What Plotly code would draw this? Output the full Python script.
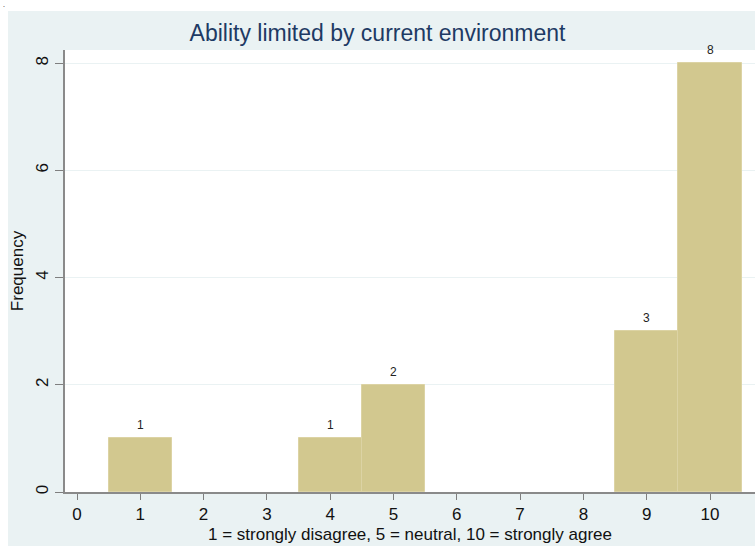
import plotly.graph_objects as go

categories = [1, 4, 5, 9, 10]
frequency = [1, 1, 2, 3, 8]
x_ticks = list(range(0, 11))
y_ticks = [0, 2, 4, 6, 8]

title_text = "Ability limited by current environment"
x_title = "1 = strongly disagree, 5 = neutral, 10 = strongly agree"
y_title = "Frequency"

W, H = 755, 546
L, R, T, B = 65, 0, 50, 54
pw, ph = W - L - R, H - T - B

def px_x(px):
    return (px - L) / pw

def px_y(py):
    return (H - B - py) / ph

bar_color = "#d2c88f"
font_family = "Liberation Sans, Arial, sans-serif"

fig = go.Figure()
fig.add_trace(go.Bar(
    x=categories, y=frequency, width=1.0,
    marker=dict(color=bar_color, line=dict(color="#dcd3a4", width=1)),
    hoverinfo="x+y",
))

for c, v in zip(categories, frequency):
    fig.add_annotation(x=c, y=v, text=str(v), showarrow=False, yshift=13,
                       font=dict(size=12, color="#222222", family=font_family))

# outer white strips (top and left) and stray dot
fig.add_shape(type="rect", xref="paper", yref="paper", x0=px_x(-5), x1=px_x(W + 5),
              y0=px_y(11), y1=px_y(-5), fillcolor="white", line=dict(width=0), layer="above")
fig.add_shape(type="rect", xref="paper", yref="paper", x0=px_x(-5), x1=px_x(8),
              y0=px_y(H + 5), y1=px_y(-5), fillcolor="white", line=dict(width=0), layer="above")
fig.add_annotation(xref="paper", yref="paper", x=px_x(4), y=px_y(9), text=".",
                   showarrow=False, font=dict(size=7, color="black", family=font_family),
                   xanchor="center", yanchor="bottom", borderpad=0)

fig.update_layout(
    width=W, height=H,
    margin=dict(l=L, r=R, t=T, b=B, pad=0),
    paper_bgcolor="#eaf2f3",
    plot_bgcolor="white",
    showlegend=False,
    bargap=0,
    font=dict(family=font_family, color="#111111"),
    title=dict(text=title_text, x=px_x(410), xanchor="center", y=1 - 33 / H, yanchor="middle",
               font=dict(size=23, color="#1e3a64", family=font_family)),
    xaxis=dict(
        range=[(L - 77) / 63.3, (W - 77) / 63.3],
        tickmode="array", tickvals=x_ticks, ticktext=[str(t) for t in x_ticks],
        ticks="outside", ticklen=6, tickcolor="#7f7f7f", tickwidth=1,
        showline=True, linecolor="#8a8a8a", linewidth=2,
        showgrid=False, zeroline=False,
        tickfont=dict(size=17, color="#111111"),
        title=dict(text=x_title, font=dict(size=17, color="#111111"), standoff=5),
    ),
    yaxis=dict(
        range=[0, (492 - 50) / 53.6],
        tickmode="array", tickvals=y_ticks, ticktext=[str(t) for t in y_ticks],
        ticks="outside", ticklen=8, tickcolor="#7f7f7f", tickwidth=1,
        tickangle=-90,
        showline=True, linecolor="#8a8a8a", linewidth=2,
        showgrid=True, gridcolor="#eaf2f3", gridwidth=1,
        zeroline=False,
        tickfont=dict(size=17, color="#111111"),
        title=dict(text=y_title, font=dict(size=17, color="#111111"), standoff=5),
    ),
)

fig.write_html("out.html", config={"displayModeBar": False},
               post_script="document.body.style.margin='0';document.body.style.overflow='hidden';")
